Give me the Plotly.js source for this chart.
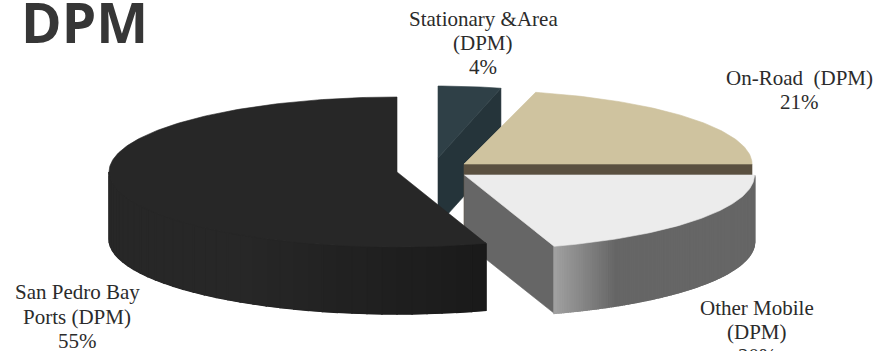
<!DOCTYPE html>
<html>
<head>
<meta charset="utf-8">
<script src="https://cdn.plot.ly/plotly-3.0.1.min.js"></script>
<style>html,body{margin:0;padding:0;background:#fff;overflow:hidden}</style>
</head>
<body>
<div id="chart" style="width:876px;height:351px"></div>
<script>
// ---- data ----
const titleText = "DPM";
const categories = ["Stationary & Area (DPM)", "On-Road (DPM)", "Other Mobile (DPM)", "San Pedro Bay Ports (DPM)"];
const labelLines = [["Stationary &amp;Area", "(DPM)", "4%"], ["On-Road  (DPM)", "21%"], ["Other Mobile", "(DPM)", "20%"], ["San Pedro Bay", "Ports (DPM)", "55%"]];
const shares = [4, 21, 20, 55];
const topColors = ["#2f4047", "#cfc39f", "#ececec", "#272727"];
const cutColors = ["#25343a", "#5a5040", "#666666", "#272727"];

// ---- drawing geometry (pixels in the hidden 876x351 axes) ----
const geom = [
  {cx: 438, cy: 158, rx: 253, ry: 72},
  {cx: 464, cy: 164, rx: 288, ry: 74},
  {cx: 464.5, cy: 175, rx: 290, ry: 75},
  {cx: 397, cy: 172, rx: 288, ry: 75}
];
const depth = 67;
const labelCentre = [483, 799, 757, 77];
const labelRows = [[19, 43, 67], [78, 102], [308, 332, 356], [292, 317, 341]];

const rad = d => d * Math.PI / 180;
const pt = (g, a, dz) => [g.cx + g.rx * Math.sin(rad(a)), g.cy - g.ry * Math.cos(rad(a)) + (dz || 0)];
const hex = v => { const s = Math.round(v).toString(16).padStart(2, "0"); return "#" + s + s + s; };

function poly(points, color, lw) {
  const xs = points.map(p => p[0]), ys = points.map(p => p[1]);
  xs.push(xs[0]); ys.push(ys[0]);
  return {type: "scatter", mode: "lines", x: xs, y: ys, fill: "toself", fillcolor: color,
          line: {color: color, width: lw === undefined ? 0.6 : lw}, hoverinfo: "skip", showlegend: false};
}
function arcPts(g, a0, a1, dz) {
  const out = [], n = Math.max(4, Math.ceil(Math.abs(a1 - a0)));
  for (let i = 0; i <= n; i++) out.push(pt(g, a0 + (a1 - a0) * i / n, dz));
  return out;
}
function wallShade(i, x) {
  if (i === 2) return x < 615 ? 102 + 58 * (615 - x) / 60 : 102;
  return x > 240 ? 26 + 13 * (487 - x) / 247 : 39;
}

const traces = [];
let cum = 0;
const spans = shares.map(s => { const a = [cum, cum + s * 3.6]; cum += s * 3.6; return a; });

shares.forEach((s, i) => {
  const g = geom[i], [a0, a1] = spans[i], apex = [g.cx, g.cy];
  // radial cut face on the clockwise end of the three smaller slices
  if (i < 3) {
    const e = pt(g, a1);
    traces.push(poly([apex, e, [e[0], e[1] + depth], [apex[0], apex[1] + depth]], cutColors[i]));
  }
  // outer wall: solid base, then strips so the shading can vary
  const wallFrom = Math.max(a0, 90), wallTo = Math.min(a1, 270);
  if (wallTo - wallFrom > 1) {
    traces.push(poly(arcPts(g, wallFrom, wallTo, 0).concat(arcPts(g, wallTo, wallFrom, depth)), hex(wallShade(i, pt(g, wallTo)[0]))));
    const step = i === 2 ? 0.5 : 3;
    const list = [];
    for (let a = wallFrom; a < wallTo; a += step) list.push([a, Math.min(a + step, wallTo)]);
    list.forEach(([a, b]) => {
      const x = pt(g, (a + b) / 2)[0];
      traces.push(poly(arcPts(g, a, b, 0).concat(arcPts(g, b, a, depth)), hex(wallShade(i, x)), 1.5));
    });
  }
  // top face
  traces.push(poly([apex].concat(arcPts(g, a0, a1)), topColors[i]));
});

const annotations = [];
labelLines.forEach((lines, i) => lines.forEach((t, j) => annotations.push({
  x: labelCentre[i], y: 1 - labelRows[i][j] / 351, xref: "x", yref: "paper",
  text: t, showarrow: false, xanchor: "center", yanchor: "middle", align: "center",
  font: {family: "Liberation Serif, serif", size: 21, color: "#2b2b2b"}
})));
annotations.push({
  x: 19, y: 1 - 21 / 351, xref: "x", yref: "paper", text: "<b>" + titleText + "</b>", showarrow: false,
  xanchor: "left", yanchor: "middle",
  font: {family: "Open Sans, sans-serif", size: 55, color: "#363636"}
});

Plotly.newPlot("chart", traces, {
  width: 876, height: 351,
  margin: {l: 0, r: 0, t: 0, b: 0},
  paper_bgcolor: "#ffffff", plot_bgcolor: "#ffffff",
  xaxis: {range: [0, 876], visible: false, fixedrange: true},
  yaxis: {range: [351, 0], visible: false, fixedrange: true},
  showlegend: false,
  annotations: annotations
}, {displayModeBar: false, staticPlot: true});
</script>
</body>
</html>
